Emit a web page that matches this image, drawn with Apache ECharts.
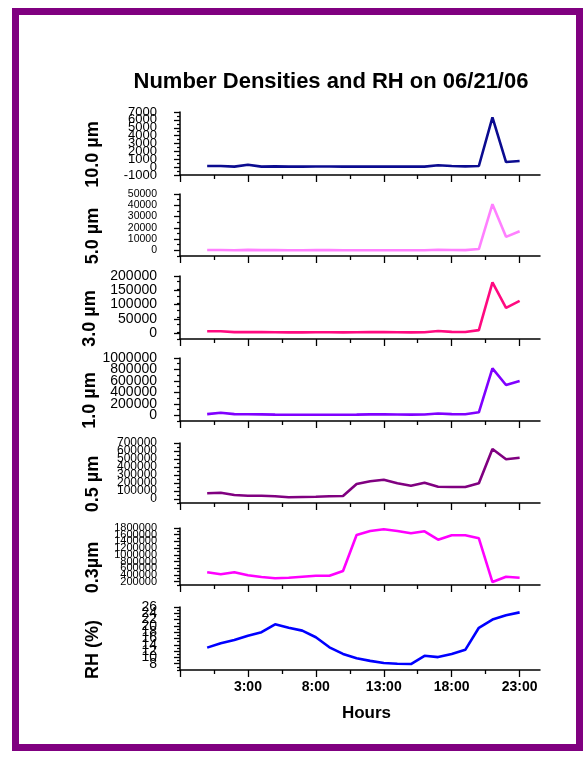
<!DOCTYPE html>
<html><head><meta charset="utf-8">
<script src="https://cdn.jsdelivr.net/npm/echarts@6/dist/echarts.min.js"></script>
<style>html,body{margin:0;padding:0;background:#fff}#c{width:585px;height:758px}</style>
</head><body><div id="c"></div>
<script>
// ---- data ----
const hours = [0,1,2,3,4,5,6,7,8,9,10,11,12,13,14,15,16,17,18,19,20,21,22,23];
const d10um = [140,140,60,310,60,100,60,60,80,80,60,60,60,60,60,60,60,230,140,100,140,6330,650,780];
const d5um  = [300,300,100,400,200,250,150,150,200,200,150,150,150,150,150,150,150,600,300,250,1200,41000,12000,17000];
const d3um  = [7000,7000,4000,4000,4000,3500,3000,3000,3500,3500,3000,3500,4000,4000,3500,3000,3500,8000,5000,4500,11000,178000,89000,113000];
const d1um  = [20000,45000,20000,18000,15000,12000,10000,10000,10000,10000,10000,12000,15000,15000,14000,12000,14000,30000,20000,18000,52000,820000,528000,598000];
const d05um = [71000,79000,50000,41000,41000,34000,21000,25000,29000,34000,37500,187500,221000,241000,196000,166000,204000,154000,150000,150000,196000,625000,496000,516000];
const d03um = [479000,419000,479000,389000,339000,300000,318000,348000,377000,377000,518000,1591000,1710000,1761000,1710000,1642000,1702000,1451000,1582000,1582000,1493000,189000,348000,318000];
const rh    = [13.1,14.5,15.5,16.9,18.0,20.5,19.4,18.5,16.4,13.2,11.1,9.7,8.9,8.2,8.0,7.9,10.5,10.1,11.1,12.4,19.4,22.0,23.4,24.3];

const panelNames = ['10.0 µm','5.0 µm','3.0 µm','1.0 µm','0.5 µm','0.3µm','RH (%)'];
const panelData = [d10um,d5um,d3um,d1um,d05um,d03um,rh];

// tick labels
const yTicks10 = [-1000,0,1000,2000,3000,4000,5000,6000,7000];
const yTicks5  = [0,10000,20000,30000,40000,50000];
const yTicks3  = [0,50000,100000,150000,200000];
const yTicks1  = [0,200000,400000,600000,800000,1000000];
const yTicks05 = [0,100000,200000,300000,400000,500000,600000,700000];
const yTicks03 = [200000,400000,600000,800000,1000000,1200000,1400000,1600000,1800000];
const yTicksRH = [8,10,12,14,16,18,20,22,24,26];
const yTickSets = [yTicks10,yTicks5,yTicks3,yTicks1,yTicks05,yTicks03,yTicksRH];
const yMins = [-1000,-5000,-20000,-100000,-50000,100000,6];
const yMaxs = [7000,50000,200000,1000000,700000,1800000,26];
const yMinorSteps = [500,5000,25000,100000,50000,100000,1];

const xLabelHours = [3,8,13,18,23];
const xMajorTicks = [-2,3,8,13,18,23];
const xMinorTicks = [0.5,5.5,10.5,15.5,20.5];
const xMin = -2, xMax = 24.5;

// ---- layout / style ----
const colors = ['#0b0b90','#ff80ff','#ff0a80','#8000ff','#800080','#ff00ff','#0000ff'];
const tops = [112,194,276,358,443,528,607];
const heights = [63,62,63,63,60,57,63];
const labelSizes = [13,10.5,14,14,12,11,14];
const FONT = "'Liberation Sans', Arial, sans-serif";

const grids = [], xAxes = [], yAxes = [], series = [];
for (let i = 0; i < 7; i++) {
  grids.push({left:180, width:360, top:tops[i], height:heights[i], outerBoundsMode:'none', containLabel:false});
  const isLast = i === 6;
  xAxes.push({
    type:'value', gridIndex:i, min:xMin, max:xMax, position:'bottom', offset:0,
    axisLine:{show:true, onZero:false, lineStyle:{color:'#000', width:1.5}},
    axisTick:{show:true, customValues:xMajorTicks, length:7, lineStyle:{color:'#000', width:1.3}},
    axisLabel:{show:isLast, customValues:xLabelHours, formatter:v=>v+':00', margin:10,
      showMinLabel:true, showMaxLabel:true, hideOverlap:false,
      color:'#000', fontFamily:FONT, fontWeight:'bold', fontSize:14},
    splitLine:{show:false},
    name: isLast ? 'Hours' : '', nameLocation:'middle', nameGap:35,
    nameTextStyle:{color:'#000', fontFamily:FONT, fontWeight:'bold', fontSize:17, padding:[0,0,0,13]}
  });
  xAxes.push({
    type:'value', gridIndex:i, min:xMin, max:xMax, position:'bottom', offset:0,
    axisLine:{show:false, onZero:false},
    axisTick:{show:true, customValues:xMinorTicks, length:4, lineStyle:{color:'#000', width:1.3}},
    axisLabel:{show:false}, splitLine:{show:false}
  });
  const majors = yTickSets[i];
  const minors = [];
  const st = yMinorSteps[i];
  for (let v = yMins[i]; v <= yMaxs[i] + 1e-9; v += st) {
    const r = Math.round(v*1000)/1000;
    if (!majors.includes(r)) minors.push(r);
  }
  // labels are spread over three stacked axes so ECharts keeps every overlapping label
  const labelGroups = [0,1,2].map(g => majors.filter((_, k) => k % 3 === g));
  const labelStyle = (vals) => ({show:true, customValues:vals, formatter:v=>String(v), margin:23,
      showMinLabel:true, showMaxLabel:true, hideOverlap:false, padding:[0,0,4,0],
      color:'#000', fontFamily:FONT, fontSize:labelSizes[i]});
  yAxes.push({
    type:'value', gridIndex:i, min:yMins[i], max:yMaxs[i], position:'left', offset:0,
    axisLine:{show:true, onZero:false, lineStyle:{color:'#000', width:1.5}},
    axisTick:{show:true, customValues:majors, length:6, lineStyle:{color:'#000', width:1.3}},
    axisLabel:labelStyle(labelGroups[0]),
    splitLine:{show:false},
    name:panelNames[i], nameLocation:'middle', nameRotate:90, nameGap:78,
    nameTextStyle:{color:'#000', fontFamily:FONT, fontWeight:'bold', fontSize:18, padding:[0,22,0,0]}
  });
  yAxes.push({
    type:'value', gridIndex:i, min:yMins[i], max:yMaxs[i], position:'left', offset:0,
    axisLine:{show:false, onZero:false},
    axisTick:{show:true, customValues:minors, length:3, lineStyle:{color:'#000', width:1.2}},
    axisLabel:labelStyle(labelGroups[1]), splitLine:{show:false}
  });
  yAxes.push({
    type:'value', gridIndex:i, min:yMins[i], max:yMaxs[i], position:'left', offset:0,
    axisLine:{show:false, onZero:false},
    axisTick:{show:false},
    axisLabel:labelStyle(labelGroups[2]), splitLine:{show:false}
  });
  series.push({
    type:'line', xAxisIndex:2*i, yAxisIndex:3*i,
    data: hours.map((h,k)=>[h, panelData[i][k]]),
    showSymbol:false, symbol:'none',
    lineStyle:{color:colors[i], width:2.6}, itemStyle:{color:colors[i]}
  });
}

const chart = echarts.init(document.getElementById('c'), null, {renderer:'canvas'});
chart.setOption({
  backgroundColor:'#fff',
  animation:false,
  title:{text:'Number Densities and RH on 06/21/06', left:331, top:71, textAlign:'center', padding:0,
    textStyle:{color:'#000', fontFamily:FONT, fontWeight:'bold', fontSize:22}},
  grid:grids, xAxis:xAxes, yAxis:yAxes, series:series,
  graphic:[{type:'rect', silent:true, shape:{x:15.5, y:11.5, width:564, height:736},
    style:{fill:'none', stroke:'#800080', lineWidth:7}}]
});
</script></body></html>
